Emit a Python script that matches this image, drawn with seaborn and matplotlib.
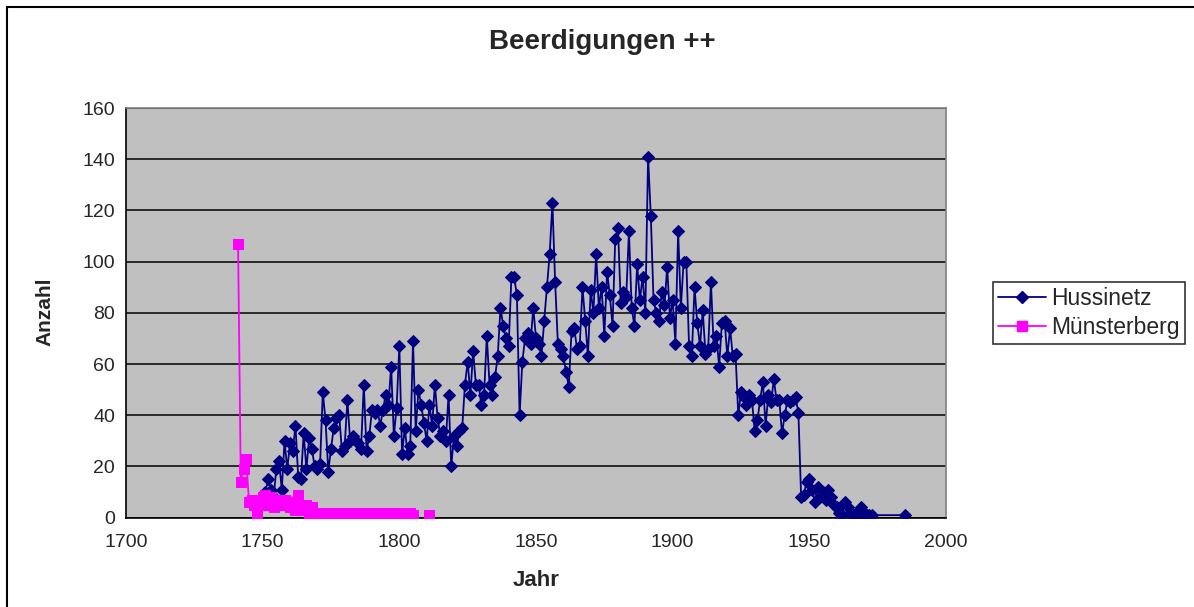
import pandas as pd
import matplotlib
matplotlib.use("Agg")
import matplotlib.pyplot as plt
import seaborn as sns
from matplotlib.lines import Line2D
from matplotlib.patches import Rectangle

# Hussinetz: yearly burials 1750-1973, then one value for 1985
hussinetz_years = list(range(1750, 1974)) + [1985]
hussinetz = [
    6, 10, 15, 11, 8, 19, 22, 11, 30, 19,          # 1750
    29, 26, 36, 16, 15, 33, 19, 31, 27, 20,        # 1760
    19, 21, 49, 38, 18, 27, 35, 39, 40, 26,        # 1770
    28, 46, 30, 32, 30, 29, 27, 52, 26, 32,        # 1780
    42, 41, 42, 36, 42, 48, 44, 59, 32, 43,        # 1790
    67, 25, 35, 25, 28, 69, 34, 50, 44, 37,        # 1800
    30, 44, 36, 52, 39, 32, 34, 30, 48, 20,        # 1810
    32, 28, 34, 35, 52, 61, 48, 65, 52, 52,        # 1820
    44, 48, 71, 52, 48, 55, 63, 82, 75, 70,        # 1830
    67, 94, 94, 87, 40, 61, 70, 72, 68, 82,        # 1840
    70, 68, 63, 77, 90, 103, 123, 92, 68, 66,      # 1850
    63, 57, 51, 73, 74, 66, 67, 90, 77, 63,        # 1860
    89, 80, 103, 82, 90, 71, 96, 87, 75, 109,      # 1870
    113, 84, 88, 86, 112, 82, 75, 99, 85, 94,      # 1880
    80, 141, 118, 85, 80, 77, 88, 83, 98, 78,      # 1890
    85, 68, 112, 82, 100, 100, 67, 63, 90, 76,     # 1900
    67, 81, 64, 66, 92, 67, 71, 59, 76, 77,        # 1910
    63, 74, 63, 64, 40, 49, 47, 44, 48, 46,        # 1920
    34, 38, 46, 53, 36, 48, 45, 54, 46, 46,        # 1930
    33, 40, 46, 45, 46, 47, 41, 8, 9, 14,          # 1940
    15, 11, 6, 12, 8, 10, 7, 11, 8, 5,             # 1950
    4, 2, 1, 6, 4, 2, 1, 2, 1, 4,                  # 1960
    2, 1, 1, 1,                                    # 1970
    1,                                             # 1985
]

# Münsterberg: 1741-1800, then 1804-1805 and 1811 (gaps in between)
muenster_years = list(range(1741, 1801)) + [1804, 1805, 1811]
muenster = [
    107, 14, 19, 23, 6, 7, 5, 2, 6, 8,     # 1741
    9, 5, 8, 4, 7, 6, 5, 7, 5, 4,          # 1751
    6, 3, 9, 4, 3, 5, 2, 4, 2, 2,          # 1761
    1, 2, 2, 1, 2, 2, 1, 2, 2, 1,          # 1771
    2, 2, 1, 2, 2, 2, 1, 2, 2, 1,          # 1781
    2, 1, 2, 2, 1, 2, 2, 1, 2, 2,          # 1791
    2, 1,                                  # 1804-1805
    1,                                     # 1811
]
muenster_seg = [0] * 60 + [1, 1] + [2]

navy = "#000080"
pink = "#FF00FF"

sns.set_style("white")
plt.rcParams["font.family"] = ["Liberation Sans", "DejaVu Sans"]

fig = plt.figure(figsize=(11.94, 6.07), dpi=100)
ax = fig.add_axes([126 / 1194, 1 - 517.7 / 607, 820 / 1194, 409.7 / 607])
ax.set_facecolor("#C0C0C0")

df_h = pd.DataFrame({"Jahr": hussinetz_years, "Anzahl": hussinetz})
df_m = pd.DataFrame({"Jahr": muenster_years, "Anzahl": muenster, "seg": muenster_seg})

sns.lineplot(data=df_h, x="Jahr", y="Anzahl", color=navy, lw=1.3,
             marker="D", markersize=5.8, markeredgecolor=navy, ax=ax, zorder=3)
sns.lineplot(data=df_m, x="Jahr", y="Anzahl", units="seg", estimator=None,
             color=pink, lw=1.3, marker="s", markersize=7.2,
             markeredgecolor=pink, ax=ax, zorder=4)

ax.set_xlim(1700, 2000)
ax.set_ylim(0, 160)
ax.set_xticks(range(1700, 2001, 50))
ax.set_yticks(range(0, 161, 20))
ax.yaxis.grid(True, color="black", lw=1.1)
ax.xaxis.grid(False)
ax.set_axisbelow(True)

for side in ["left", "bottom"]:
    ax.spines[side].set_color("black")
    ax.spines[side].set_linewidth(1.2)
for side in ["top", "right"]:
    ax.spines[side].set_color("#808080")
    ax.spines[side].set_linewidth(1.2)

ax.tick_params(axis="both", direction="out", length=5, width=1, color="black",
               labelsize=14)
ax.tick_params(axis="x", pad=7)
ax.tick_params(axis="y", pad=3)

ax.set_xlabel("")
ax.set_ylabel("")
fig.text(536 / 1194, 1 - 580 / 607, "Jahr", ha="center", va="center",
         fontsize=16, fontweight="bold")
fig.text(45 / 1194, 1 - 312 / 607, "Anzahl", ha="center", va="center",
         rotation=90, fontsize=15, fontweight="bold")
fig.text(602 / 1194, 1 - 42 / 607, "Beerdigungen ++", ha="center", va="center",
         fontsize=20, fontweight="bold")

handles = [
    Line2D([], [], color=navy, lw=1.3, marker="D", markersize=5.8),
    Line2D([], [], color=pink, lw=1.3, marker="s", markersize=7.2),
]
leg = fig.legend(handles, ["Hussinetz", "Münsterberg"], loc="upper left",
                 bbox_to_anchor=(993 / 1194, 1 - 282 / 607), borderaxespad=0,
                 fontsize=16.5, frameon=True, fancybox=False, edgecolor="black",
                 handlelength=2.1, handletextpad=0.25, borderpad=0.2,
                 labelspacing=0.3)
leg.get_frame().set_linewidth(1.2)

fig.patches.append(Rectangle((7 / 1194, -0.5), 2, 1.5 - 7 / 607, fill=False,
                             lw=1.5, ec="black", transform=fig.transFigure))

fig.savefig("out.png", dpi=100)
